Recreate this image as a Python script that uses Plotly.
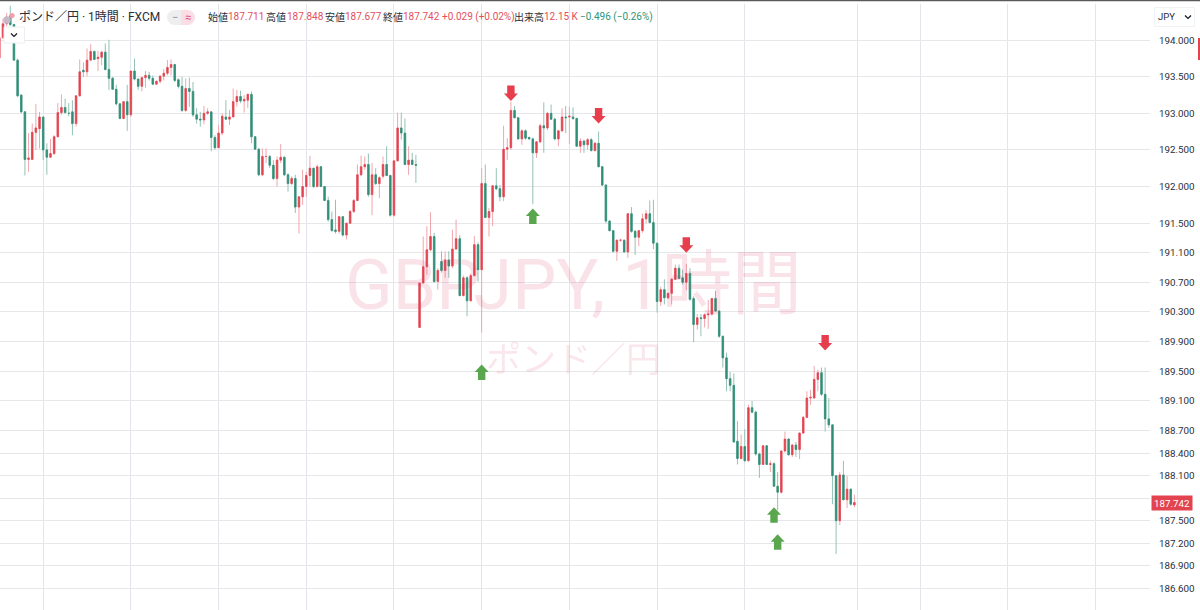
import numpy as np
import plotly.graph_objects as go

opens = [
193.76,194.04,194.23,194.34,194.22,193.73,193.25,193.02,192.37,192.37,
192.74,192.79,192.95,192.50,192.40,192.45,192.68,193.01,193.08,193.00,
193.02,192.86,193.24,193.59,193.57,193.73,193.85,193.75,193.77,193.84,
193.60,193.48,193.33,193.13,192.93,193.16,192.98,193.58,193.47,193.37,
193.49,193.52,193.48,193.40,193.44,193.51,193.55,193.63,193.67,193.46,
193.37,193.04,193.34,193.30,192.98,192.92,192.91,193.00,193.02,192.67,
192.53,192.73,192.95,192.92,192.95,193.16,193.23,193.17,193.18,193.26,
192.68,192.51,192.16,192.41,192.41,192.29,192.11,192.36,192.40,192.16,
192.04,192.11,191.72,191.86,192.00,192.15,192.25,192.00,192.27,192.00,
191.81,191.55,191.41,191.39,191.59,191.34,191.50,191.66,191.81,192.16,
192.27,192.30,191.89,192.16,192.04,192.14,192.30,192.15,191.61,192.35,
192.80,192.73,192.30,192.36,192.30,
190.09,190.69,190.91,191.14,191.32,190.71,190.98,190.86,191.00,190.92,
191.15,191.29,190.52,190.76,190.45,190.79,191.21,190.87,192.04,191.58,
191.66,192.01,191.97,191.86,192.51,192.53,193.04,192.94,192.65,192.76,
192.67,192.65,192.46,192.61,192.83,192.80,193.00,192.92,192.65,192.76,
192.95,192.95,192.95,192.93,192.55,192.62,192.57,192.64,192.49,192.59,
192.27,192.02,191.53,191.40,191.12,191.27,191.27,191.11,191.63,191.39,
191.31,191.40,
191.56,191.63,191.51,191.23,190.44,190.60,190.49,190.55,190.74,
190.89,190.76,190.70,190.82,190.48,190.13,190.22,190.21,190.26,190.27,
190.48,190.31,189.97,189.68,189.40,189.31,188.56,188.33,188.49,188.30,
189.01,188.95,188.39,188.25,188.50,188.25,188.26,187.96,187.88,188.43,
188.59,188.38,188.51,188.45,188.67,188.88,189.14,189.14,189.39,189.48,
189.19,188.86,188.78,188.10,187.50,188.11,187.78,187.92,187.711]

highs = [
194.04,194.30,194.38,194.48,194.23,193.75,193.26,193.03,192.73,192.86,
193.13,193.02,192.95,192.59,192.65,192.70,193.14,193.26,193.20,193.14,
193.18,193.24,193.74,193.70,193.89,193.95,193.86,193.86,193.86,193.96,
194.01,193.50,193.39,193.14,193.16,193.39,193.58,193.75,193.48,193.50,
193.58,193.57,193.52,193.45,193.52,193.61,193.73,193.74,193.68,193.48,
193.50,193.48,193.49,193.43,193.07,193.02,193.10,193.07,193.02,192.70,
192.84,193.00,193.18,193.05,193.34,193.32,193.31,193.25,193.27,193.30,
192.69,192.52,192.52,192.52,192.43,192.36,192.41,192.58,192.41,192.18,
192.14,192.16,191.86,192.23,192.20,192.42,192.25,192.30,192.28,192.00,
191.86,191.66,191.82,191.60,191.60,191.51,191.68,191.83,192.30,192.42,
192.41,192.45,192.32,192.25,192.14,192.41,192.55,192.16,192.35,193.01,
193.01,192.93,192.55,192.46,192.43,
190.69,191.32,191.46,191.65,191.37,190.89,191.12,191.12,191.12,191.41,
191.55,191.34,190.79,190.78,190.82,191.33,191.24,192.25,192.30,191.71,
192.02,192.25,192.02,192.83,192.66,193.16,193.10,192.95,192.78,192.78,
192.68,192.67,192.62,192.86,193.15,193.02,193.12,192.94,192.77,193.07,
193.10,193.09,193.08,192.94,192.66,192.64,192.66,192.66,192.61,192.75,
192.28,192.03,191.54,191.41,191.28,191.29,191.28,191.64,191.72,191.41,
191.41,191.63,
191.68,191.81,191.82,191.23,190.64,190.74,190.56,190.76,190.94,
190.94,190.87,190.95,190.89,190.51,190.27,190.27,190.28,190.46,190.49,
190.58,190.32,189.98,189.75,189.49,189.47,188.83,188.65,188.72,189.05,
189.10,188.97,188.41,188.51,188.51,188.30,188.28,188.15,188.44,188.69,
188.60,188.52,188.55,188.68,188.90,189.23,189.25,189.57,189.52,189.55,
189.55,189.14,188.78,188.10,188.15,188.30,188.10,187.93,187.848]

lows = [
193.76,194.02,194.20,194.20,193.73,193.22,193.00,192.15,192.20,192.36,
192.50,192.52,192.36,192.16,192.39,192.43,192.67,192.98,193.00,192.96,
192.70,192.82,193.23,193.50,193.51,193.73,193.73,193.58,193.66,193.59,
193.32,193.32,193.11,192.92,192.92,192.76,192.95,193.45,193.32,193.30,
193.35,193.45,193.39,193.39,193.41,193.45,193.52,193.52,193.43,193.34,
193.02,193.02,193.09,192.95,192.86,192.82,192.85,192.98,192.48,192.50,
192.52,192.70,192.91,192.84,192.95,193.09,193.14,193.01,193.07,192.59,
192.50,192.14,192.14,192.32,192.25,192.09,192.00,192.32,192.14,191.93,
192.02,191.64,191.36,191.75,191.86,192.00,191.98,191.99,191.99,191.80,
191.52,191.39,191.36,191.36,191.32,191.28,191.49,191.64,191.80,192.14,
192.23,191.86,191.61,192.02,191.84,192.11,192.14,191.59,191.59,192.34,
192.64,192.30,192.16,192.30,192.05,
190.09,190.69,190.80,191.12,190.69,190.60,190.83,190.76,190.76,190.89,
191.14,190.51,190.51,190.24,190.44,190.78,190.71,190.02,191.57,191.32,
191.46,191.95,191.80,191.80,192.36,192.50,192.93,192.64,192.57,192.64,
192.64,191.76,192.39,192.59,192.46,192.77,192.91,192.63,192.55,192.75,
192.73,192.58,192.91,192.54,192.46,192.46,192.50,192.48,192.49,192.26,
192.01,191.50,191.39,191.10,190.99,191.25,191.10,191.03,191.37,191.07,
191.19,191.37,
191.50,191.50,191.15,190.29,190.38,190.40,190.47,190.40,190.73,
190.75,190.67,190.59,190.45,189.89,190.06,189.97,190.09,190.07,190.25,
190.30,189.95,189.55,189.23,189.23,188.55,188.25,188.32,188.28,188.29,
188.94,188.37,188.07,188.25,188.25,188.15,187.95,187.64,187.86,188.41,
188.37,188.35,188.35,188.32,188.66,188.87,189.05,189.13,189.23,189.17,
188.69,188.74,187.72,187.06,187.44,187.77,187.67,187.70,187.677]

closes = [
194.04,194.23,194.32,194.22,193.73,193.24,193.02,192.37,192.39,192.74,
192.80,192.95,192.50,192.40,192.45,192.68,193.01,193.08,193.01,193.00,
192.86,193.24,193.57,193.57,193.73,193.85,193.74,193.77,193.84,193.60,
193.48,193.33,193.13,192.93,193.16,192.98,193.58,193.47,193.37,193.49,
193.52,193.48,193.40,193.44,193.51,193.55,193.63,193.67,193.45,193.37,
193.04,193.34,193.30,192.98,192.92,192.91,193.00,193.02,192.67,192.53,
192.73,192.96,192.92,192.95,193.16,193.23,193.17,193.19,193.26,192.68,
192.51,192.16,192.41,192.41,192.29,192.11,192.36,192.40,192.16,192.04,
192.11,191.72,191.86,192.00,192.15,192.25,192.00,192.27,192.00,191.81,
191.55,191.40,191.39,191.59,191.34,191.50,191.66,191.81,192.16,192.27,
192.30,191.89,192.16,192.04,192.12,192.30,192.15,191.61,192.35,192.80,
192.73,192.30,192.36,192.30,192.29,
190.69,190.91,191.14,191.32,190.71,190.86,190.86,191.00,190.92,191.15,
191.29,190.52,190.76,190.45,190.79,191.21,190.87,192.04,191.58,191.66,
192.01,191.97,191.86,192.51,192.53,193.04,192.94,192.65,192.76,192.66,
192.65,192.46,192.61,192.83,192.80,193.00,192.92,192.65,192.76,192.95,
192.94,192.96,192.93,192.55,192.62,192.57,192.64,192.49,192.59,192.27,
192.02,191.53,191.40,191.12,191.27,191.27,191.11,191.63,191.39,191.31,
191.40,191.56,
191.63,191.51,191.23,190.44,190.60,190.49,190.55,190.74,190.89,
190.75,190.70,190.82,190.47,190.13,190.22,190.21,190.26,190.27,190.48,
190.31,189.97,189.68,189.40,189.31,188.55,188.33,188.49,188.30,189.01,
188.95,188.39,188.25,188.50,188.25,188.26,187.96,187.88,188.43,188.59,
188.38,188.51,188.45,188.67,188.88,189.14,189.15,189.39,189.48,189.19,
188.86,188.78,188.10,187.50,188.11,187.78,187.92,187.72,187.742]

price_ticks = [194.0,193.5,193.0,192.5,192.0,191.5,191.1,190.7,190.3,189.9,189.5,189.1,188.7,188.4,188.1,187.8,187.5,187.2,186.9,186.6]
price_labels = ["194.000","193.500","193.000","192.500","192.000","191.500","191.100","190.700","190.300","189.900","189.500","189.100","188.700","188.400","188.100","","187.500","187.200","186.900","186.600"]
time_grid = [12,36,60,84,108,132,156,180,204,234.8,252,276,300]

sell_idx = [140,164,188,226]
sell_price = [193.17,192.86,191.10,189.78]
buy_idx = [132,146,212,213]
buy_price = [189.59,191.70,187.68,187.32]

RED, GREEN = "#e2434f", "#2f8f77"
WICK_RED, WICK_GREEN = "#f0a6ad", "#93c2b5"
PW, PH, PR = 1200, 610, 50
def px(x): return x/(PW-PR)
def py(y): return 1-y/PH

n = len(closes)
xs = list(range(n))
o, c = np.array(opens), np.array(closes)
fig = go.Figure()
fig.add_trace(go.Candlestick(x=xs, open=opens, high=highs, low=lows, close=closes, whiskerwidth=0,
    increasing=dict(line=dict(color=WICK_RED, width=1), fillcolor=WICK_RED),
    decreasing=dict(line=dict(color=WICK_GREEN, width=1), fillcolor=WICK_GREEN), showlegend=False))
fig.add_trace(go.Candlestick(x=xs, open=opens, high=np.maximum(o,c), low=np.minimum(o,c), close=closes, whiskerwidth=0,
    increasing=dict(line=dict(color=RED, width=0.6), fillcolor=RED),
    decreasing=dict(line=dict(color=GREEN, width=0.6), fillcolor=GREEN), showlegend=False))

shapes, ann = [], []
def arrow(i, p, down, col):
    s = 1 if down else -1
    pts = [(0,0),(-7,7.5),(-3.7,7.5),(-3.7,15.5),(3.7,15.5),(3.7,7.5),(7,7.5)]
    path = "M " + " L ".join(f"{a},{s*b}" for a,b in pts) + " Z"
    shapes.append(dict(type="path", xref="x", yref="y", xsizemode="pixel", ysizemode="pixel",
        xanchor=i, yanchor=p, path=path, fillcolor=col, line=dict(width=0), layer="above"))
for i,p in zip(sell_idx, sell_price): arrow(i,p,True,"#e63e4c")
for i,p in zip(buy_idx, buy_price): arrow(i,p,False,"#5aa64f")

def rect(x0,y0,x1,y1,fill,line=None):
    shapes.append(dict(type="rect", xref="paper", yref="paper", x0=px(x0), x1=px(x1), y0=py(y1), y1=py(y0),
        fillcolor=fill, line=dict(width=1 if line else 0, color=line or fill), layer="above"))
def chevron(cx,cy,col="#131722"):
    shapes.append(dict(type="path", xref="paper", yref="paper",
        path=f"M {px(cx-3)},{py(cy-1.5)} L {px(cx)},{py(cy+1.5)} L {px(cx+3)},{py(cy-1.5)}",
        line=dict(color=col,width=1.2), layer="above"))
def circle(cx,cy,r,col):
    shapes.append(dict(type="circle", xref="paper", yref="paper", x0=px(cx-r), x1=px(cx+r), y0=py(cy+r), y1=py(cy-r),
        fillcolor=col, line=dict(width=0), layer="above"))

rect(0,0,PW,1.5,"#5a5a5a")
rect(0,1.5,PW,4,"#ffffff")
rect(1198,38,1200,60,RED)
rect(1154.5,7.5,1194.5,26.5,"#ffffff","#f0f3f6")
chevron(1188,17)
circle(174.5,17.5,7.5,"#eeeef0")
circle(187.5,17.5,7.5,"#fbdde4")
rect(174.5,10,181,25,"#eeeef0")
rect(181,10,187.5,25,"#fbdde4")
rect(4,27,24.5,43,"#ffffff","#eceef2")
chevron(14,35)
circle(12,15.5,2.6,"#f3a0ac")
circle(7,20,3.8,"#c6b9c6")

def text(x,y,t,size,col,anchor="left",fam="Roboto, Noto Sans CJK JP"):
    ann.append(dict(xref="paper", yref="paper", x=px(x), y=py(y), text=t, showarrow=False, xanchor=anchor, yanchor="middle",
        font=dict(size=size,color=col,family=fam), borderpad=0, borderwidth=0))

INK = "#2a2e39"; RT = "#e2505c"; GT = "#2f9478"
WM = "rgba(222,60,105,0.15)"
text(573,285,"GBPJPY, 1時間",70,WM,"center")
text(573,360,"ポンド／円",35,WM,"center")
text(19,17,"ポンド／円 · 1時間 · FXCM",12,INK)
text(174.5,17.5,"−",11,"#8a8e99","center")
text(188,17.5,"≈",11,"#e0557a","center")
for x,t,col in [(208,"始値",INK),(228,"187.711",RT),(266,"高値",INK),(287,"187.848",RT),(325,"安値",INK),(345,"187.677",RT),
                (383,"終値",INK),(403,"187.742",RT),(442,"+0.029 (+0.02%)",RT),(514,"出来高",INK),(544,"12.15 K",RT),(580,"−0.496 (−0.26%)",GT)]:
    text(x,17,t,10,col)
text(1158,17,"JPY",9.5,INK)
ann.append(dict(xref="paper", yref="y", x=px(1172), y=float(np.log10(closes[-1])), text="187.742", showarrow=False,
    font=dict(size=9.8,color="#ffffff",family="Roboto"), bgcolor="#e2434f", borderpad=1.5, xanchor="center", yanchor="middle", width=37, height=11))

fig.update_layout(width=PW, height=PH, margin=dict(l=0,r=PR,t=0,b=0), paper_bgcolor="#ffffff", plot_bgcolor="#ffffff",
    shapes=shapes, annotations=ann, showlegend=False, hovermode=False, boxgap=0.42,
    xaxis=dict(range=[0.183,314.9], rangeslider=dict(visible=False), tickvals=time_grid, showticklabels=False, ticks="",
               showgrid=True, gridcolor="#e4e5ea", gridwidth=1.4, zeroline=False, showline=False, fixedrange=True),
    yaxis=dict(type="log", range=[2.27025,2.28905], side="right", tickvals=price_ticks, ticktext=price_labels, ticks="",
               showgrid=True, gridcolor="#e6e7eb", gridwidth=1.4, zeroline=False, showline=False, ticklabelstandoff=8,
               tickfont=dict(size=9.8,color="#2a2e39",family="Roboto"), fixedrange=True))
assert len(opens)==len(highs)==len(lows)==len(closes), (len(opens),len(highs),len(lows),len(closes))
fig.write_html("out.html", config=dict(displayModeBar=False), post_script="document.body.style.margin='0';document.documentElement.style.overflow='hidden';")
